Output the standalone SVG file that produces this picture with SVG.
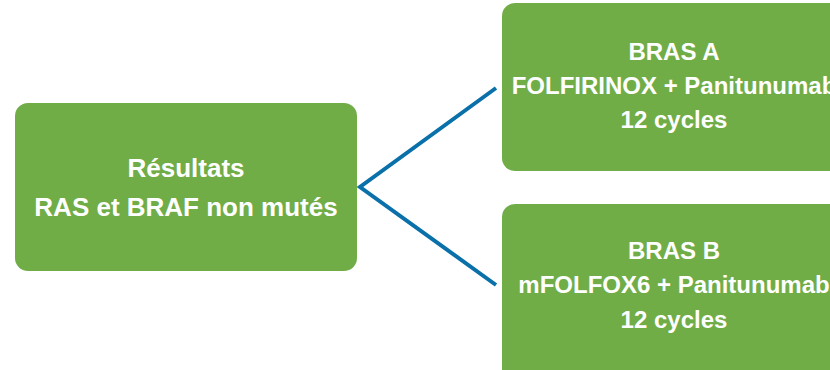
<svg xmlns="http://www.w3.org/2000/svg" width="830" height="370" viewBox="0 0 830 370">
  <style>
    .box { fill: #70AD47; }
    .lbl { font-family: "Liberation Sans", Arial, sans-serif; font-weight: bold; font-size: 24px; fill: #ffffff; text-anchor: middle; }
    .big { font-size: 26px; }
    .link { stroke: #0A70AA; stroke-width: 4; fill: none; stroke-linejoin: miter; }
  </style>
  <rect width="830" height="370" fill="#ffffff"/>
  <g id="connectors">
    <polyline class="link" points="496,88 360,187 496,285"/>
  </g>
  <g id="node-resultats">
    <rect class="box" x="15" y="103" width="342" height="168" rx="13"/>
    <text class="lbl big" x="186" y="177">Résultats</text>
    <text class="lbl big" x="186" y="216">RAS et BRAF non mutés</text>
  </g>
  <g id="node-bras-a">
    <rect class="box" x="502" y="3" width="344" height="168" rx="13"/>
    <text class="lbl" x="674" y="60">BRAS A</text>
    <text class="lbl" x="674" y="94">FOLFIRINOX + Panitunumab</text>
    <text class="lbl" x="674" y="128">12 cycles</text>
  </g>
  <g id="node-bras-b">
    <rect class="box" x="502" y="204" width="344" height="180" rx="13"/>
    <text class="lbl" x="674" y="259">BRAS B</text>
    <text class="lbl" x="674" y="293">mFOLFOX6 + Panitunumab</text>
    <text class="lbl" x="674" y="328">12 cycles</text>
  </g>
</svg>
